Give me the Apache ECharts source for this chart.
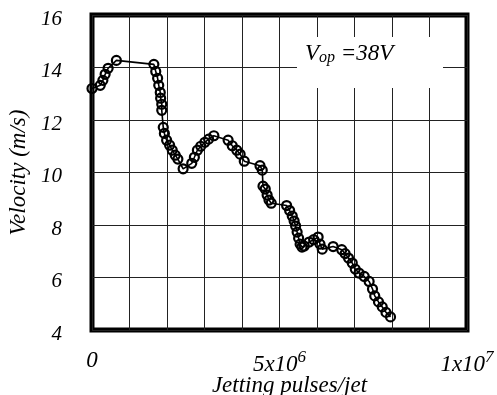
<!DOCTYPE html>
<html><head><meta charset="utf-8">
<script src="https://cdn.jsdelivr.net/npm/echarts@6/dist/echarts.min.js"></script>
<style>html,body{margin:0;padding:0;background:#fff}#c{width:497px;height:395px}</style>
</head><body><div id="c"></div>
<script>
// x in millions of jetting pulses per jet
const pulsesM = [0.0,0.22,0.29,0.35,0.43,0.65,1.65,1.70,1.75,1.78,1.82,1.83,1.86,1.86,1.90,1.93,1.99,2.07,2.14,2.22,2.29,2.43,2.66,2.73,2.81,2.90,3.01,3.11,3.25,3.63,3.74,3.86,3.95,4.06,4.48,4.54,4.56,4.62,4.67,4.72,4.78,5.19,5.27,5.34,5.39,5.43,5.47,5.51,5.55,5.60,5.66,5.79,5.91,6.03,6.08,6.14,6.43,6.66,6.75,6.84,6.94,7.02,7.12,7.26,7.39,7.48,7.54,7.64,7.74,7.84,7.96];
const velocity = [13.2,13.32,13.51,13.74,13.97,14.27,14.12,13.85,13.59,13.32,13.05,12.83,12.6,12.37,11.72,11.49,11.23,11.04,10.85,10.66,10.51,10.14,10.35,10.58,10.85,11.0,11.15,11.27,11.4,11.23,11.02,10.85,10.7,10.43,10.26,10.09,9.48,9.37,9.14,8.95,8.83,8.74,8.55,8.34,8.15,7.96,7.73,7.5,7.27,7.16,7.2,7.35,7.44,7.54,7.27,7.08,7.18,7.06,6.91,6.74,6.55,6.32,6.17,6.04,5.85,5.56,5.3,5.07,4.88,4.67,4.5];
const xTickLabels = {0:'0', 5:'5x10{s|6}', 10:'1x10{s|7}'};
const yTicks = [4,6,8,10,12,14,16];
const xTitle = 'Jetting pulses/jet';
const yTitle = 'Velocity (m/s)';

const data = pulsesM.map((x,i)=>[x, velocity[i]]);
const font = 'Liberation Serif';
const chart = echarts.init(document.getElementById('c'), null, {renderer:'canvas'});
chart.setOption({
  animation:false,
  backgroundColor:'#fff',
  grid:{left:92, right:30, top:15, bottom:65, show:true, borderColor:'#000', borderWidth:5, backgroundColor:'transparent', containLabel:false, outerBoundsMode:'none'},
  xAxis:{type:'value', min:0, max:10, interval:1,
    name:xTitle, nameLocation:'middle', nameGap:44, nameMoveOverlap:false,
    nameTextStyle:{fontFamily:font, fontStyle:'italic', fontSize:23, color:'#000', padding:[0,0,0,20]},
    axisLine:{show:false}, axisTick:{show:false},
    splitLine:{show:true, lineStyle:{color:'#222', width:1}},
    axisLabel:{margin:19, fontFamily:font, fontStyle:'italic', fontSize:23, color:'#000',
      formatter:v=>xTickLabels[Math.round(v)]||'',
      rich:{s:{fontFamily:font, fontStyle:'italic', fontSize:17, verticalAlign:'top', padding:[0,0,14,0], color:'#000'}}}
  },
  yAxis:{type:'value', min:4, max:16, interval:2,
    name:yTitle, nameLocation:'middle', nameGap:57, nameRotate:90,
    nameTextStyle:{fontFamily:font, fontStyle:'italic', fontSize:23, color:'#000'},
    axisLine:{show:false}, axisTick:{show:false},
    splitLine:{show:true, lineStyle:{color:'#222', width:1}},
    axisLabel:{margin:30, verticalAlign:'middle', fontFamily:font, fontStyle:'italic', fontSize:21, color:'#000',
      formatter:v=>yTicks.includes(v)?'{a|'+v+'}':'',
      rich:{a:{fontFamily:font, fontStyle:'italic', fontSize:21, lineHeight:21, padding:[8,0,0,0], color:'#000'}}}
  },
  series:[{type:'line', data:data, clip:false,
    symbol:'circle', symbolSize:9,
    itemStyle:{color:'rgba(0,0,0,0)', borderColor:'#000', borderWidth:2.2},
    lineStyle:{color:'#000', width:1.6}, z:3}],
  graphic:[
    {type:'rect', left:297, top:37, shape:{width:146, height:51}, style:{fill:'#fff'}, z:100},
    {type:'text', left:305, top:42, z:101, style:{
      text:'V{sub|op} =38V', font:'italic 23px "Liberation Serif"', fill:'#000',
      rich:{sub:{fontFamily:font, fontStyle:'italic', fontSize:16, verticalAlign:'bottom', padding:[9,0,0,0], fill:'#000'}}}}
  ]
});
</script></body></html>
